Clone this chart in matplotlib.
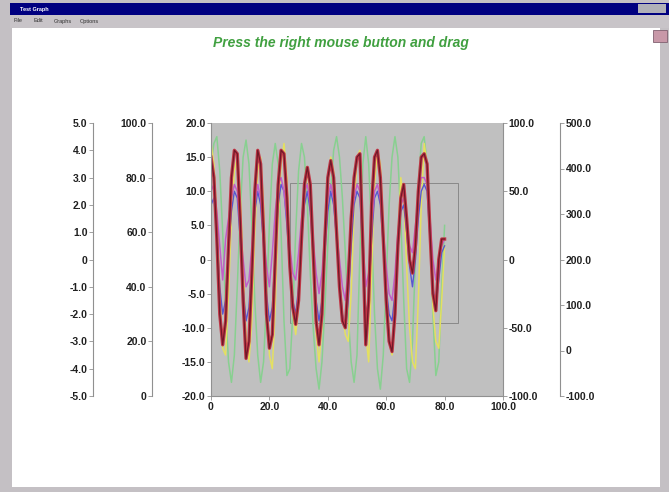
import matplotlib
matplotlib.use("Agg")
import matplotlib.pyplot as plt
from matplotlib.patches import Rectangle

W, H = 669, 492

x = list(range(0, 81))

red = [15, 12, 3, -8, -12.5, -9, 2, 12, 16, 15.5, 6, -6, -14.5, -12, -2, 10, 16, 14, 4, -8,
       -13, -11, 0, 11, 16, 15.5, 9, -1, -7, -9.5, -6, 3, 11, 13.5, 11, 1, -9, -12.5, -8, 3,
       12, 14.5, 12, 4, -4, -9, -10, -3, 6, 12, 15, 15.5, 2, -12.5, -6, 8, 15, 16, 12, 3,
       -6, -12, -13.5, -8, 2, 9, 11, 6, 0, -2, 2, 10, 15, 15.5, 14, 4, -5, -7.5, 0, 3, 3]

green = [14, 17, 18, 13, 4, -7, -15, -18, -14, -4, 7, 15, 17.5, 14, 5, -6, -14, -18, -15, -6,
         5, 14, 17, 14, 4, -9, -17, -16, -8, 4, 13, 17, 15, 8, -2, -10, -16, -19, -15, -7,
         2, 10, 16, 18, 15, 9, 1, -8, -15, -18, -14, 1, 14, 18, 14, 4, -8, -16, -19, -14,
         -3, 8, 15, 18, 15, 6, -6, -16, -18, -12, 0, 11, 17, 18, 14, 5, -8, -17, -15, -4, 5]

yellow = [17, 14, 6, -5, -13, -14, -5, 6, 13, 15, 10, -1, -11, -15, -9, 4, 13, 15, 8, -5,
          -14, -16, -7, 6, 14, 17, 12, 1, -8, -11, -7, 2, 10, 13, 9, -2, -11, -15, -10, 1,
          11, 15, 13, 6, -2, -8, -11, -12, -5, 7, 15, 16, 5, -11, -15, -2, 11, 16, 14, 5,
          -5, -12, -14, -9, 3, 12, 9, -1, -10, -15, -16, -6, 8, 17, 14, 3, -7, -12, -13, -6, 2]

purple = [10, 11, 7, 2, -3, 3, 6, 9, 11, 10, 5, 0, -4, -3, 2, 8, 11, 9, 4, -1,
          -4, 1, 7, 11, 12, 10, 6, 2, -2, -3, 1, 6, 10, 11, 8, 3, -2, -5, -2, 4,
          9, 11, 9, 4, 0, -4, -6, -1, 5, 9, 11, 10, 3, -4, -2, 5, 10, 11, 9, 4,
          -1, -5, -6, -2, 4, 8, 9, 6, 2, 1, 5, 9, 12, 12, 11, 6, 0, -3, 0, 2, 3]

blue = [8, 9, 4, -4, -8, -6, 1, 7, 10, 9, 3, -4, -9, -7, 0, 7, 10, 8, 2, -5,
        -9, -7, 1, 8, 11, 10, 5, -1, -6, -8, -4, 3, 8, 10, 7, 0, -6, -9, -6, 1,
        7, 10, 8, 3, -3, -8, -10, -6, 2, 8, 10, 9, 1, -8, -6, 3, 9, 10, 8, 2,
        -4, -8, -9, -5, 2, 7, 8, 4, -1, -4, 0, 6, 10, 11, 10, 3, -4, -7, -3, 1, 2]

main_ticks = [-20, -15, -10, -5, 0, 5, 10, 15, 20]
x_ticks = [0, 20, 40, 60, 80, 100]
axis1_ticks = [-5, -4, -3, -2, -1, 0, 1, 2, 3, 4, 5]
axis2_ticks = [0, 20, 40, 60, 80, 100]
right1_ticks = [-100, -50, 0, 50, 100]
right2_ticks = [-100, 0, 100, 200, 300, 400, 500]

title = "Press the right mouse button and drag"
window_title = "Test Graph"
menu_items = ["File", "Edit", "Graphs", "Options"]

plt.rcParams['font.family'] = ['Liberation Sans', 'DejaVu Sans']


def fmt(v):
    return "0" if v == 0 else f"{v:.1f}"


def fx(px):
    return px / W


def fy(py):
    return 1 - py / H


fig = plt.figure(figsize=(W / 100, H / 100), dpi=100, facecolor='#c4c0c4')

# window chrome, kept behind the axes
def box(x0, y0, x1, y1, **kw):
    kw.setdefault('lw', 0)
    fig.add_artist(Rectangle((fx(x0), fy(y1)), fx(x1 - x0), (y1 - y0) / H, zorder=-5, **kw))


box(10, 3, 669, 15, color='#000080')
box(10, 15, 669, 28, color='#c8c4c8')
box(12, 28, 660, 487, color='white')
box(653, 30, 667, 42, facecolor='#c898a8', edgecolor='#806070', lw=0.6)
box(638, 4, 666, 13, color='#b0b0b8')
fig.text(fx(20), fy(9), window_title, color='white', fontsize=4, fontweight='bold', va='center')
mx = 14
for item in menu_items:
    fig.text(fx(mx), fy(21), item, color='#303030', fontsize=4, va='center')
    mx += len(item) * 3 + 8

fig.text(fx(341), fy(43), title, color='#40a040', fontsize=10, fontweight='bold',
         fontstyle='italic', ha='center', va='center')

left, right, top, bottom = 211, 503, 123, 396
ax = fig.add_axes([fx(left), fy(bottom), fx(right - left), (bottom - top) / H])
ax.set_facecolor('#c0c0c0')

ax.plot(x, green, color='#88d090', lw=1.1)
ax.plot(x, yellow, color='#e4e060', lw=1.1)
ax.plot(x, blue, color='#5858d0', lw=1.0)
ax.plot(x, purple, color='#c060c8', lw=1.1)
ax.plot(x, red, color='#c03848', lw=2.4)
ax.plot(x, red, color='#701828', lw=0.9)

ax.add_patch(Rectangle((27, -9.3), 57.5, 20.5, fill=False, edgecolor='#808080', lw=0.6))

ax.set_xlim(0, 100)
ax.set_ylim(-20, 20)
ax.set_xticks(x_ticks)
ax.set_xticklabels([fmt(v) for v in x_ticks])
ax.set_yticks(main_ticks)
ax.set_yticklabels([fmt(v) for v in main_ticks])
for s in ['top', 'right']:
    ax.spines[s].set_visible(False)
for s in ['left', 'bottom']:
    ax.spines[s].set_color('#909090')

tick_kw = dict(labelsize=7.5, length=3, width=0.6, color='#909090', pad=1)
ax.tick_params(**tick_kw)


def side_axis(ticks, lim, pos, side):
    a = ax.twinx()
    a.set_ylim(*lim)
    a.set_yticks(ticks)
    a.set_yticklabels([fmt(v) for v in ticks])
    for s in a.spines.values():
        s.set_visible(False)
    a.spines[side].set_visible(True)
    a.spines[side].set_position(('axes', pos))
    a.spines[side].set_color('#909090')
    a.yaxis.set_ticks_position(side)
    a.yaxis.set_label_position(side)
    a.tick_params(**tick_kw)
    return a


side_axis(axis1_ticks, (-5, 5), (93 - left) / (right - left), 'left')
side_axis(axis2_ticks, (0, 100), (152 - left) / (right - left), 'left')
side_axis(right1_ticks, (-100, 100), 1.0, 'right')
side_axis(right2_ticks, (-100, 500), (560 - left) / (right - left), 'right')

for a in fig.axes:
    for lab in a.get_xticklabels() + a.get_yticklabels():
        lab.set_fontweight('bold')
        lab.set_color('#202020')

fig.savefig('out.png', dpi=100, facecolor=fig.get_facecolor())
